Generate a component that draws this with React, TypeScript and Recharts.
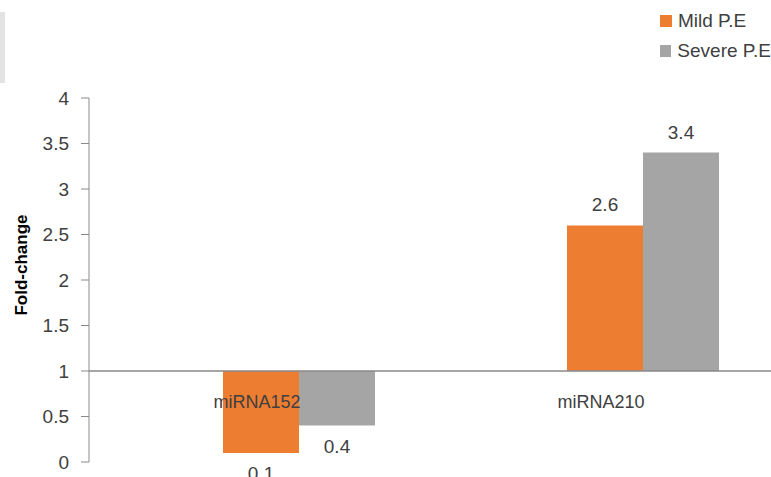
import React from "react";
import { BarChart, Bar, XAxis, YAxis, LabelList, Legend, ReferenceLine, Label } from "recharts";

// Fold-change of each miRNA relative to control (baseline = 1)
const categories = ["miRNA152", "miRNA210"];
const mildValues = [0.1, 2.6];
const severeValues = [0.4, 3.4];
const yTicks = [0, 0.5, 1, 1.5, 2, 2.5, 3, 3.5, 4];
const BASELINE = 1;

const seriesNames = { mild: "Mild P.E", severe: "Severe P.E" };
const colors = { mild: "#ED7D31", severe: "#A5A5A5" };

const data = categories.map((name, i) => ({
  name,
  mild: mildValues[i],
  severe: severeValues[i],
}));

const FONT = "'Liberation Sans', Arial, sans-serif";
const TEXT = "#404040";
const AXIS = "#898989";

// Bars grow from the baseline of 1 up or down to their value
const fromBaseline = (key: "mild" | "severe") => (d: any) => [BASELINE, d[key]];

// Value label sits beyond the bar's outer end (above when >1, below when <1)
const ValueLabel = (props: any) => {
  const vb = props.viewBox || props;
  const x = vb.x ?? props.x;
  const y = vb.y ?? props.y;
  const w = vb.width ?? props.width;
  const h = vb.height ?? props.height;
  const v = Number(props.value);
  const top = Math.min(y, y + h);
  const bottom = Math.max(y, y + h);
  const cx = x + w / 2;
  const ty = v < BASELINE ? bottom + 27 : top - 14;
  return (
    <text x={cx} y={ty} textAnchor="middle" fontFamily={FONT} fontSize={19} fill={TEXT}>
      {v}
    </text>
  );
};

// Category names drawn just under the baseline line
const CategoryTick = (props: any) => {
  const { x, y, payload } = props;
  return (
    <text x={x - 42} y={y - 62} textAnchor="middle" fontFamily={FONT} fontSize={18} fill={TEXT}>
      {payload.value}
    </text>
  );
};

const LegendBox = () => (
  <div style={{ fontFamily: FONT, fontSize: 19, color: TEXT, lineHeight: "30px" }}>
    {(["mild", "severe"] as const).map((k) => (
      <div key={k} style={{ display: "flex", alignItems: "center", height: 30 }}>
        <span style={{ display: "inline-block", width: 12, height: 12, background: colors[k], marginRight: 6 }} />
        <span style={{ whiteSpace: "nowrap" }}>{seriesNames[k]}</span>
      </div>
    ))}
  </div>
);

const AxisTitle = (props: any) => {
  const vb = props.viewBox;
  const cx = 21;
  const cy = vb.y + vb.height / 2 - 15;
  return (
    <text
      x={cx}
      y={cy}
      transform={`rotate(-90 ${cx} ${cy})`}
      textAnchor="middle"
      dominantBaseline="central"
      fontFamily={FONT}
      fontSize={17}
      fontWeight="bold"
      fill="#000"
    >
      Fold-change
    </text>
  );
};

export default function App() {
  return (
    <div style={{ position: "absolute", left: 0, top: 0, width: 771, height: 477, background: "#fff" }}>
      <div style={{ position: "absolute", left: 0, top: 12, width: 5, height: 71, background: "#e3e3e3" }} />
      <BarChart
        width={771}
        height={477}
        data={data}
        margin={{ top: 98, right: -44, bottom: 0, left: 0 }}
        barSize={76}
        barGap={0}
      >
        <XAxis
          dataKey="name"
          height={15}
          padding={{ left: 38, right: 0 }}
          axisLine={false}
          tickLine={false}
          tick={<CategoryTick />}
          interval={0}
        />
        <YAxis
          width={89}
          domain={[0, 4]}
          ticks={yTicks}
          interval={0}
          axisLine={{ stroke: AXIS }}
          tickLine={{ stroke: AXIS }}
          tickSize={8}
          tickMargin={12}
          tick={{ fontFamily: FONT, fontSize: 19, fill: TEXT }}
        >
          <Label content={<AxisTitle />} />
        </YAxis>
        <Legend
          layout="vertical"
          verticalAlign="middle"
          align="center"
          content={<LegendBox />}
          wrapperStyle={{ position: "absolute", top: 6, left: 660, width: 111 }}
        />
        <Bar dataKey={fromBaseline("mild")} name={seriesNames.mild} fill={colors.mild} isAnimationActive={false}>
          <LabelList dataKey="mild" content={<ValueLabel />} />
        </Bar>
        <Bar dataKey={fromBaseline("severe")} name={seriesNames.severe} fill={colors.severe} isAnimationActive={false}>
          <LabelList dataKey="severe" content={<ValueLabel />} />
        </Bar>
        <ReferenceLine y={BASELINE} stroke={AXIS} strokeWidth={1.5} ifOverflow="visible" />
      </BarChart>
    </div>
  );
}
